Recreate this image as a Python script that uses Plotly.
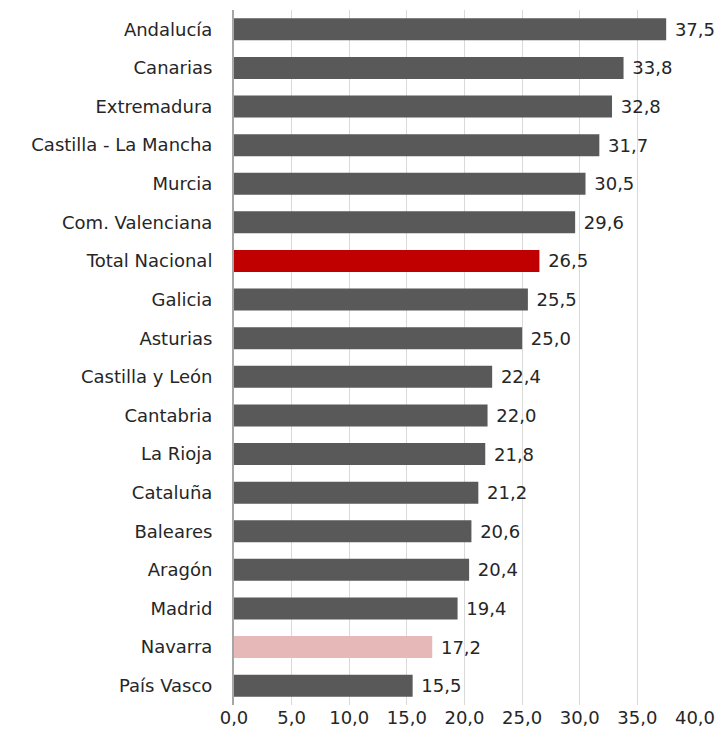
import plotly.graph_objects as go

# Categories top -> bottom as shown in the chart
regions = [
    "Andalucía", "Canarias", "Extremadura", "Castilla - La Mancha", "Murcia",
    "Com. Valenciana", "Total Nacional", "Galicia", "Asturias", "Castilla y León",
    "Cantabria", "La Rioja", "Cataluña", "Baleares", "Aragón", "Madrid",
    "Navarra", "País Vasco",
]
values = [37.5, 33.8, 32.8, 31.7, 30.5, 29.6, 26.5, 25.5, 25.0, 22.4,
          22.0, 21.8, 21.2, 20.6, 20.4, 19.4, 17.2, 15.5]

GREY = "#595959"
RED = "#C00000"
PINK = "#E6B9B8"
highlight = {"Total Nacional": RED, "Navarra": PINK}
bar_colors = [highlight.get(r, GREY) for r in regions]

FONT = "DejaVu Sans, sans-serif"
TXT = "#262626"
FS = 18

fig = go.Figure(go.Bar(
    x=values,
    y=regions,
    orientation="h",
    marker=dict(color=bar_colors, line=dict(width=0)),
    texttemplate=" %{x:.1f}",
    textposition="outside",
    cliponaxis=False,
    textfont=dict(family=FONT, size=FS, color=TXT),
    width=0.57,
))

fig.update_layout(
    width=719, height=744,
    margin=dict(l=234, r=24, t=10, b=39, autoexpand=False),
    paper_bgcolor="white",
    plot_bgcolor="white",
    separators=",.",
    showlegend=False,
    font=dict(family=FONT, size=FS, color=TXT),
)
fig.update_xaxes(
    range=[0, 40],
    tick0=0, dtick=5,
    tickformat=".1f",
    showgrid=True, gridcolor="#D9D9D9", gridwidth=1,
    zeroline=False,
    showline=False,
    ticks="",
    automargin=False,
    tickfont=dict(size=FS, color=TXT),
)
fig.update_yaxes(
    categoryorder="array",
    categoryarray=regions[::-1],
    autorange=False,
    range=[-0.5, len(regions) - 0.5],
    showline=True, linecolor="#A6A6A6", linewidth=2,
    showgrid=False,
    ticks="", ticklabelstandoff=16,
    automargin=False,
    tickfont=dict(size=FS, color=TXT),
)

# drop the default body margin so the figure fills the window exactly
fig.write_html(
    "out.html",
    config={"displayModeBar": False},
    post_script="document.body.style.margin='0';document.body.style.overflow='hidden';",
)
